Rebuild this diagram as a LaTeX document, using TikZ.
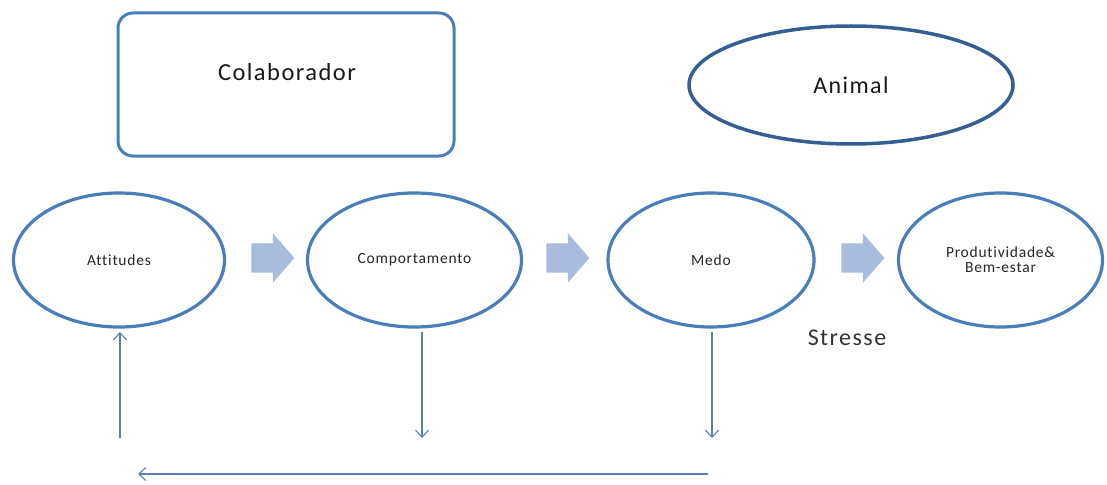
\documentclass[tikz,border=0pt]{standalone}
\usepackage{fontspec}
\setmainfont{Carlito}
\newfontfamily\smallspaced[LetterSpace=5,Ligatures=CommonOff]{Carlito}
\newfontfamily\bigspaced[LetterSpace=6,Ligatures=CommonOff]{Carlito}
\usetikzlibrary{shapes.geometric,shapes.arrows,arrows.meta}
\definecolor{edge}{HTML}{4A7EBB}
\definecolor{darkedge}{HTML}{355E92}
\definecolor{arrowfill}{HTML}{A9BCDD}
\definecolor{thinline}{HTML}{5A80B0}
\begin{document}
\begin{tikzpicture}[x=1pt,y=-1pt,
  oval/.style={ellipse, draw=edge, line width=3.2pt, minimum width=210pt, minimum height=134pt, inner sep=0pt, align=center, font=\smallspaced\fontsize{15.5}{18}\selectfont, text=black!85},
  bigarrow/.style={single arrow, fill=arrowfill, draw=none, minimum height=43pt, inner sep=14.5pt, single arrow head extend=10pt, single arrow tip angle=98, shape border rotate=0},
  feedback/.style={draw=thinline, line width=1.1pt, -{Straight Barb[length=7pt,width=13pt,line width=1.1pt]}}
]
\useasboundingbox (0,0) rectangle (1107,484);
% top boxes
\node[draw=edge, line width=3pt, rounded corners=15pt, minimum width=336pt, minimum height=143pt, inner sep=0pt] (colab) at (286,84.5) {};
\node[font=\bigspaced\fontsize{24.5}{28}\selectfont, text=black!90] (colabtxt) at (287,72) {Colaborador};
\node[ellipse, draw=darkedge, line width=3.5pt, minimum width=324pt, minimum height=118pt, inner sep=0pt, font=\bigspaced\fontsize{24}{28}\selectfont, text=black!90] (animal) at (851,85) {Animal};
% main chain
\node[oval, minimum width=211pt] (att) at (119,260) {Attitudes};
\node[oval, minimum width=214pt] (comp) at (414.5,260) {Comportamento};
\node[oval, minimum width=206pt] (medo) at (711,260) {Medo};
\node[oval, minimum width=204pt] (prod) at (1000.5,260) {Produtividade\&\\[-3pt]Bem-estar};
\node[bigarrow] (ar1) at (266.5,258) {};
\node[bigarrow] (ar2) at (561.5,258) {};
\node[bigarrow] (ar3) at (856.5,258) {};
\node[font=\bigspaced\fontsize{24}{28}\selectfont, text=black!80] (stress) at (847,338) {Stresse};
% feedback arrows
\coordinate (upS) at (120,438);
\coordinate (upE) at (120,332);
\coordinate (c1S) at (422,332);
\coordinate (c1E) at (422,438);
\coordinate (m1S) at (712,332);
\coordinate (m1E) at (712,438);
\coordinate (hS) at (708,474);
\coordinate (hE) at (138,474);
\draw[feedback] (upS) -- (upE);
\draw[feedback] (c1S) -- (c1E);
\draw[feedback] (m1S) -- (m1E);
\draw[feedback] (hS) -- (hE);
\end{tikzpicture}
\end{document}
